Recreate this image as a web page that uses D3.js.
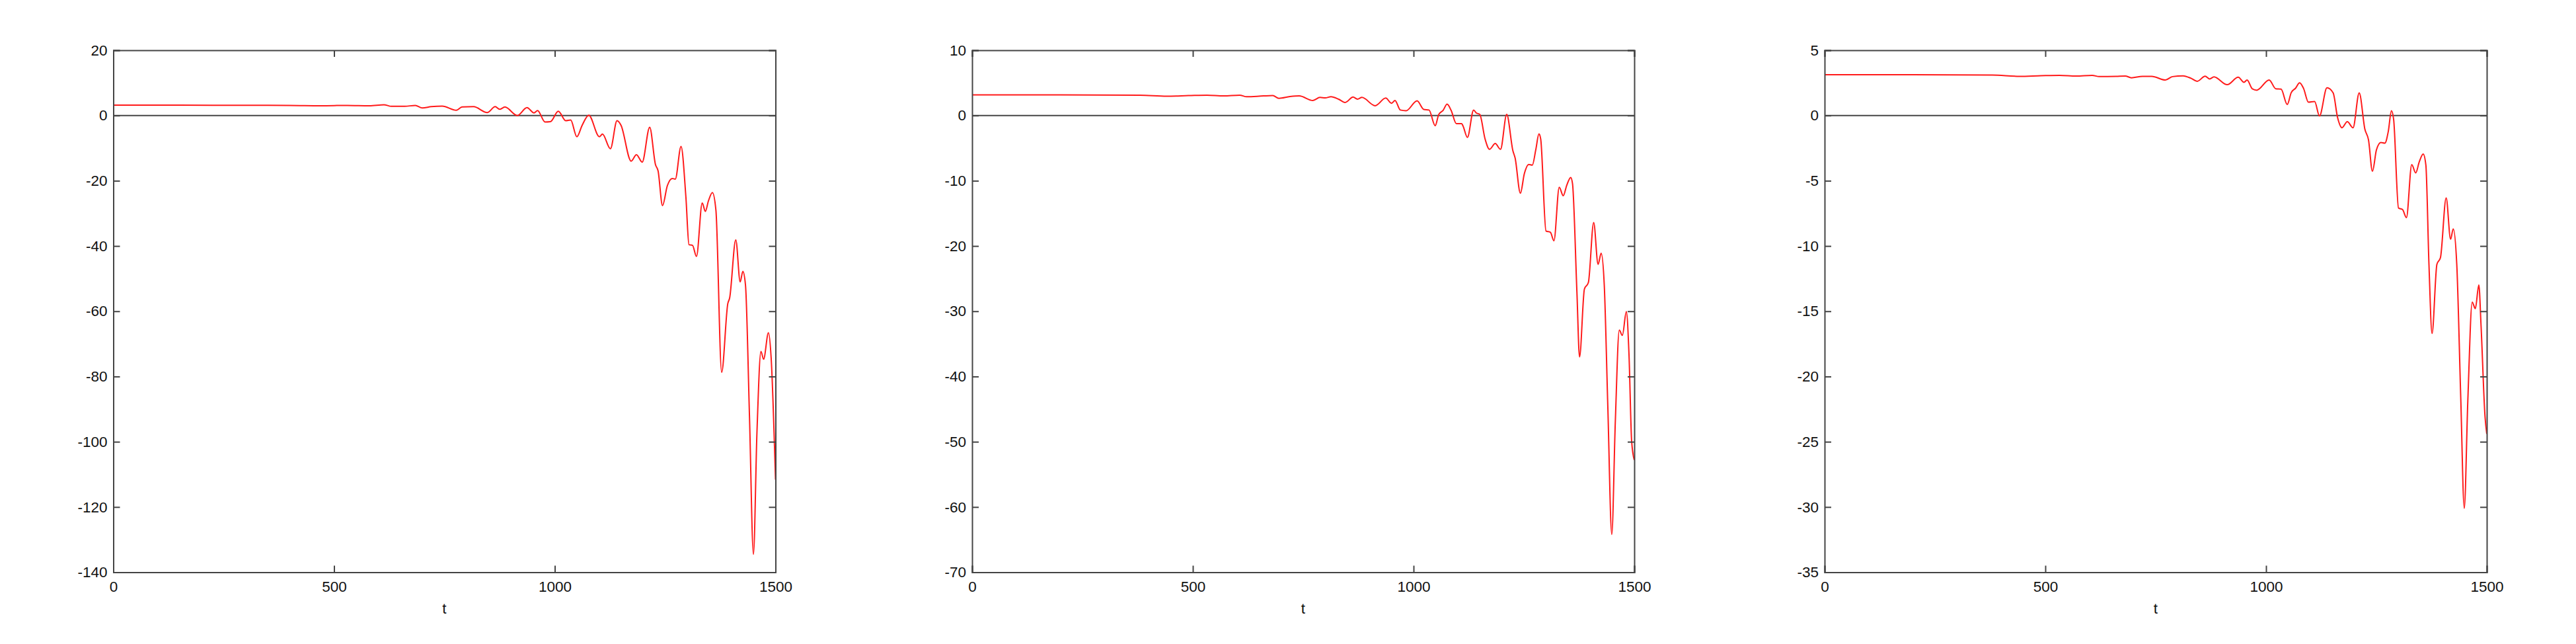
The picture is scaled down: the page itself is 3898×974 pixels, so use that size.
<!DOCTYPE html>
<html>
<head>
<meta charset="utf-8">
<script src="https://cdn.jsdelivr.net/npm/d3@7"></script>
<style>
  body { margin: 0; background: #fff; }
  svg { display: block; }
  .tick text { font-family: "Liberation Sans", Arial, sans-serif; font-size: 22.5px; fill: #111; }
  .axis path, .axis line { stroke: #444; stroke-width: 2; }
  .xlabel { font-family: "Liberation Sans", Arial, sans-serif; font-size: 22.5px; fill: #111; }
</style>
</head>
<body>
<svg id="chart" width="3898" height="974"></svg>
<script>
// x ticks shared by all three panels
var xTicks = [0, 500, 1000, 1500];

// panel 1
var t1 = [0,150,300,400,470,530,580,613,630,660,684,700,720,745,777,790,816,847,865,875,887,915,937,953,961,978,990,1008,1025,1036,1050,1062,1077,1101,1108,1126,1141,1150,1173,1185,1198,1215,1228,1234,1244,1255,1266,1273,1286,1297,1304,1312,1321,1334,1341,1348,1357,1365,1378,1392,1396,1410,1420,1426,1432,1441,1450,1458,1467,1473,1484,1490,1500];
var v1 = [3.2,3.18,3.12,3.1,3.0,3.1,3.0,3.3,2.8,2.8,3.1,2.3,2.7,2.9,1.6,2.6,2.7,0.9,2.7,1.9,2.6,0.0,2.4,0.8,1.5,-2.0,-1.9,1.3,-1.6,-1.4,-6.5,-3.0,0.1,-6.5,-5.7,-10.2,-1.6,-3.0,-14.0,-12.0,-14.3,-3.6,-15,-17,-27.6,-21.5,-19.3,-19.5,-9.5,-25,-39.6,-39.8,-43.2,-26.8,-29.4,-26.2,-23.6,-29,-78.7,-57.6,-56,-38.1,-51,-47.8,-52,-92,-134.5,-97,-72.3,-74.7,-66.6,-74,-111.6];
var yTicks1 = [20,0,-20,-40,-60,-80,-100,-120,-140];

// panel 2
var t2 = [0,200,380,441,490,532,570,606,622,660,681,695,720,741,772,788,800,813,830,845,863,873,883,913,937,950,958,970,983,1008,1023,1035,1049,1057,1067,1076,1085,1097,1109,1112,1122,1136,1142,1150,1162,1172,1185,1197,1211,1225,1230,1242,1251,1261,1269,1277,1284,1288,1300,1310,1318,1330,1339,1347,1356,1360,1370,1376,1387,1396,1408,1418,1425,1432,1440,1449,1457,1466,1473,1482,1488,1494,1500];
var v2 = [3.15,3.15,3.12,2.97,3.05,3.12,3.0,3.12,2.87,3.0,3.05,2.63,2.9,3.0,2.3,2.77,2.7,2.88,2.5,2.0,2.83,2.5,2.77,1.5,2.67,1.88,2.3,0.84,0.73,2.25,0.94,0.84,-1.57,0.16,0.8,1.73,0.8,-1.26,-1.26,-1.6,-3.35,0.84,0.4,0.16,-3.6,-5.18,-4.3,-5.18,0.16,-5.4,-6.5,-11.9,-8.9,-7.5,-7.6,-5.2,-2.83,-3.6,-17.7,-17.9,-19.2,-11.0,-12.3,-10.7,-9.5,-10.4,-27,-37,-26.6,-25.6,-16.4,-22.8,-21.1,-26,-44.5,-64.2,-47,-32.9,-33.7,-30.05,-36.6,-49.9,-52.8];
var yTicks2 = [10,0,-10,-20,-30,-40,-50,-60,-70];

// panel 3
var t3 = [0,200,380,441,490,532,570,606,622,660,681,695,720,741,772,788,812,830,844,862,872,882,912,937,950,957,969,979,1007,1022,1034,1048,1057,1067,1076,1085,1096,1110,1121,1138,1152,1162,1172,1184,1197,1211,1224,1232,1241,1250,1260,1269,1277,1284,1289,1300,1309,1318,1330,1339,1347,1356,1362,1369,1376,1387,1395,1408,1418,1424,1432,1441,1449,1457,1467,1474,1482,1487,1496,1500];
var v3 = [3.12,3.12,3.1,3.0,3.05,3.08,3.02,3.08,2.98,3.0,3.03,2.89,3.0,3.0,2.72,2.98,3.04,2.85,2.62,3.01,2.8,2.96,2.36,2.93,2.54,2.72,2.04,1.94,2.72,2.05,2.02,0.84,1.75,2.1,2.51,2.07,1.02,1.07,-0.03,2.12,1.73,-0.16,-0.94,-0.47,-0.94,1.73,-1.07,-1.86,-4.27,-2.64,-2.07,-2.12,-1.2,0.37,-0.3,-7.09,-7.2,-7.83,-3.77,-4.4,-3.56,-2.96,-3.8,-11.4,-16.7,-11.4,-10.9,-6.31,-9.48,-8.69,-11.4,-21.6,-30.1,-21.9,-14.3,-14.8,-12.98,-16.1,-23.06,-24.4];
var yTicks3 = [5,0,-5,-10,-15,-20,-25,-30,-35];

var panels = [
    {left: 171.5, t: t1, v: v1, ticks: yTicks1},
    {left: 1471, t: t2, v: v2, ticks: yTicks2},
    {left: 2761, t: t3, v: v3, ticks: yTicks3}
];

var svg = d3.select("#chart");
var pw = 1002, ph = 789.5, plotTop = 76;
// plain hyphen minus like the original figure
var fmt = function(d) { return String(d); };

panels.forEach(function(p, i) {
    var g = svg.append("g").attr("transform", "translate(" + p.left + "," + plotTop + ")");

    var x = d3.scaleLinear().domain([0, 1500]).range([0, pw]);
    var y = d3.scaleLinear()
        .domain([p.ticks[p.ticks.length - 1], p.ticks[0]])
        .range([ph, 0]);

    g.append("clipPath").attr("id", "clip" + i)
        .append("rect").attr("width", pw).attr("height", ph);

    // zero line
    g.append("line")
        .attr("x1", 0).attr("x2", pw)
        .attr("y1", y(0)).attr("y2", y(0))
        .attr("stroke", "#444").attr("stroke-width", 2);

    var pts = p.t.map(function(d, k) { return [d, p.v[k]]; });
    var line = d3.line()
        .x(function(d) { return x(d[0]); })
        .y(function(d) { return y(d[1]); })
        .curve(d3.curveMonotoneX);

    g.append("path")
        .datum(pts)
        .attr("clip-path", "url(#clip" + i + ")")
        .attr("fill", "none")
        .attr("stroke", "#ff1a1a")
        .attr("stroke-width", 2)
        .attr("d", line);

    g.append("g").attr("class", "axis")
        .attr("transform", "translate(0," + ph + ")")
        .call(d3.axisBottom(x).tickValues(xTicks).tickSize(-10).tickPadding(14).tickFormat(fmt));
    g.append("g").attr("class", "axis")
        .call(d3.axisTop(x).tickValues(xTicks).tickSize(-10).tickFormat(""));
    g.append("g").attr("class", "axis")
        .call(d3.axisLeft(y).tickValues(p.ticks).tickSize(-10).tickPadding(9).tickFormat(fmt));
    g.append("g").attr("class", "axis")
        .attr("transform", "translate(" + pw + ",0)")
        .call(d3.axisRight(y).tickValues(p.ticks).tickSize(-10).tickFormat(""));

    g.append("text")
        .attr("class", "xlabel")
        .attr("x", pw / 2)
        .attr("y", 852)
        .attr("text-anchor", "middle")
        .text("t");
});
</script>
</body>
</html>
